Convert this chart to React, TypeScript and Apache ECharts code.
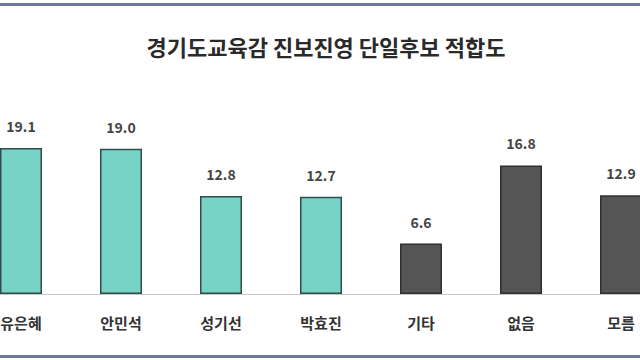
import React, { useEffect, useRef } from "react";
import * as echarts from "echarts";

const categories = ["유은혜", "안민석", "성기선", "박효진", "기타", "없음", "모름"];
const values = [19.1, 19.0, 12.8, 12.7, 6.6, 16.8, 12.9];
const groups = ["candidate", "candidate", "candidate", "candidate", "other", "other", "other"];
const titleText = "경기도교육감 진보진영 단일후보 적합도";

const FONT = "'Noto Sans CJK KR', 'Noto Sans', sans-serif";
const SHIFT = 29; // chart canvas extends past the left edge of the page
const CW = 700;

export default function App() {
  const ref = useRef<HTMLDivElement>(null);
  useEffect(() => {
    if (!ref.current) return;
    const chart = echarts.init(ref.current, null, { renderer: "svg" });
    chart.setOption({
      animation: false,
      backgroundColor: "#ffffff",
      title: {
        text: titleText,
        left: SHIFT + 321,
        textAlign: "center",
        top: 30,
        textStyle: { fontFamily: FONT, fontSize: 22, fontWeight: "bold", color: "#2a2a2a" },
      },
      graphic: [
        { type: "rect", shape: { x: SHIFT, y: 3, width: 640, height: 3 }, style: { fill: "#6f7895" } },
        { type: "rect", shape: { x: SHIFT, y: 355, width: 640, height: 3 }, style: { fill: "#6f7895" } },
      ],
      grid: { left: 0, right: 0, top: 141, bottom: 66, containLabel: false },
      xAxis: {
        type: "category",
        data: categories,
        axisTick: { show: false },
        axisLine: { show: true, lineStyle: { color: "#c8c8c8", width: 1 } },
        axisLabel: {
          fontFamily: FONT,
          fontSize: 15,
          fontWeight: "bold",
          color: "#333333",
          margin: 21,
        },
      },
      yAxis: {
        type: "value",
        min: 0,
        max: 20,
        show: false,
        splitLine: { show: false },
      },
      series: [
        {
          type: "bar",
          barWidth: 42,
          data: values.map((v, i) => ({
            value: v,
            itemStyle:
              groups[i] === "candidate"
                ? { color: "#78d3c7", borderColor: "#2e4d4a", borderWidth: 1.5 }
                : { color: "#555555", borderColor: "#2f2f2f", borderWidth: 1.5 },
          })),
          label: {
            show: true,
            position: "top",
            distance: 15,
            fontFamily: FONT,
            fontSize: 14,
            fontWeight: "bold",
            color: "#444444",
            formatter: (p: any) => Number(p.value).toFixed(1),
          },
        },
      ],
    });
    return () => chart.dispose();
  }, []);
  return (
    <div
      ref={ref}
      style={{ width: CW, height: 360, position: "fixed", left: -SHIFT, top: 0 }}
    />
  );
}
